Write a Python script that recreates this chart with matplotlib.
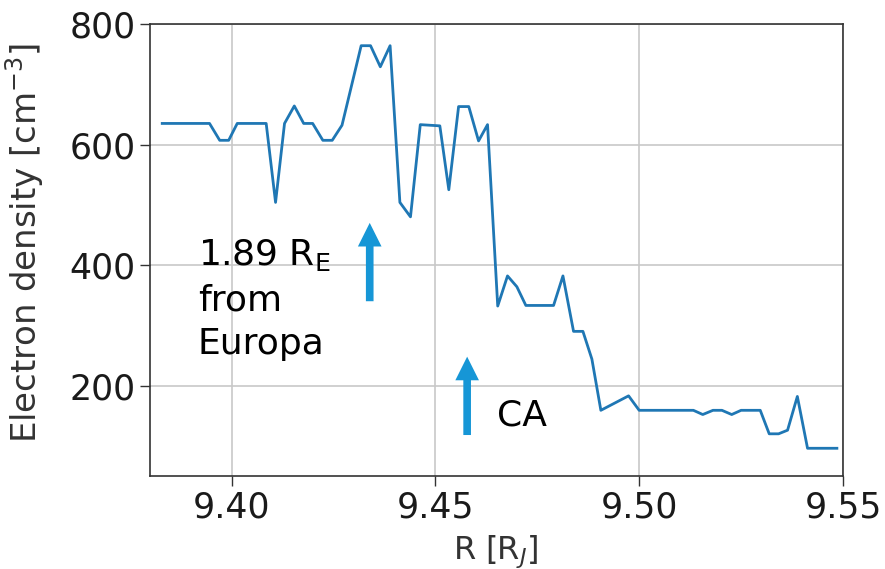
import matplotlib
matplotlib.use("Agg")
import matplotlib.pyplot as plt
from matplotlib.patches import FancyArrowPatch
from matplotlib.ticker import FormatStrFormatter

# Data
r_values = [9.3830, 9.3946, 9.3971, 9.3993, 9.4014, 9.4085, 9.4108, 9.4130,
            9.4154, 9.4177, 9.4199, 9.4224, 9.4247, 9.4271, 9.4318, 9.4341,
            9.4365, 9.4389, 9.4413, 9.4439, 9.4463, 9.4511, 9.4533, 9.4557,
            9.4582, 9.4606, 9.4628, 9.4653, 9.4677, 9.4700, 9.4722, 9.4790,
            9.4813, 9.4839, 9.4862, 9.4884, 9.4906, 9.4974, 9.5000, 9.5133,
            9.5156, 9.5181, 9.5203, 9.5227, 9.5250, 9.5297, 9.5319, 9.5342,
            9.5364, 9.5388, 9.5413, 9.5485]
density = [635, 635, 607, 607, 635, 635, 504, 635,
           664, 635, 635, 607, 607, 632, 764, 764,
           729, 764, 504, 480, 633, 631, 525, 663,
           663, 606, 633, 332, 382, 364, 333, 333,
           382, 290, 290, 244, 159, 183, 159, 159,
           152, 159, 159, 152, 159, 159, 120, 120,
           126, 182, 96, 96]

x_ticks = [9.40, 9.45, 9.50, 9.55]
y_ticks = [200, 400, 600, 800]

europa_arrow_r = 9.4339
europa_arrow_y = (340, 470)
ca_arrow_r = 9.4578
ca_arrow_y = (118, 248)

fig = plt.figure(figsize=(8.85, 5.69), dpi=100)
ax = fig.add_axes([150/885, 1-476/569, (843-150)/885, (476-24)/569])

ax.plot(r_values, density, color="#1f77b4", lw=2.0)

ax.set_xlim(9.38, 9.55)
ax.set_ylim(50, 800)
ax.set_xticks(x_ticks)
ax.set_yticks(y_ticks)
ax.xaxis.set_major_formatter(FormatStrFormatter("%.2f"))
ax.grid(True, color="#c8c8c8", lw=1.2)
ax.set_axisbelow(True)
ax.tick_params(labelsize=25, length=7, width=1, color="#333333", labelcolor="#1a1a1a")
for s in ax.spines.values():
    s.set_color("#333333")
    s.set_linewidth(1.2)

ax.set_xlabel(r"R [R$_J$]", fontsize=23, color="#333333", va="top")
ax.set_ylabel(r"Electron density [cm$^{-3}$]", fontsize=24.5, color="#333333")
ax.xaxis.set_label_coords((496-150)/693, (476-534)/452)
ax.yaxis.set_label_coords((46-150)/693, (476-242.5)/452)

arrow_color = "#1696d6"
for xr, (y0, y1) in [(europa_arrow_r, europa_arrow_y), (ca_arrow_r, ca_arrow_y)]:
    arr = FancyArrowPatch((xr, y0), (xr, y1),
                          arrowstyle="simple,head_length=17,head_width=17,tail_width=5.5",
                          mutation_scale=1, shrinkA=0, shrinkB=0,
                          color=arrow_color, lw=0)
    ax.add_patch(arr)

ax.text(9.3917, 447, "1.89 R$_\\mathrm{E}$\nfrom\nEuropa", fontsize=26,
        va="top", ha="left", linespacing=1.38, color="black")
ax.text(9.4652, 150, "CA", fontsize=26, va="center", ha="left", color="black")

fig.savefig("out.png", dpi=100)
